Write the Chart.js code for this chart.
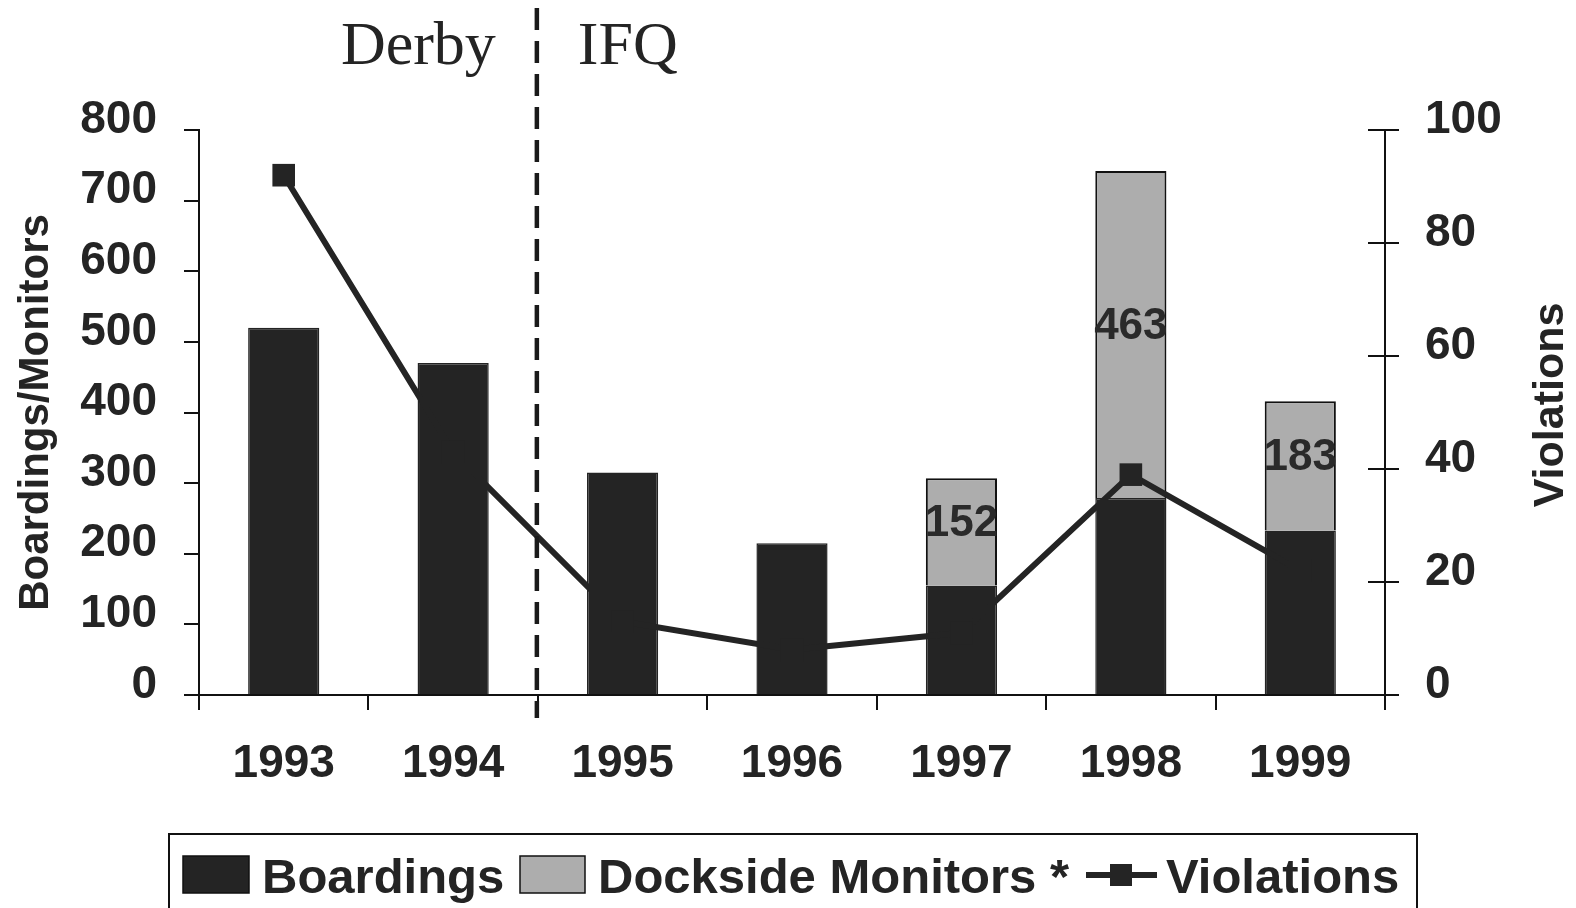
<!DOCTYPE html>
<html>
<head>
<meta charset="utf-8">
<script src="https://cdn.jsdelivr.net/npm/chart.js@4.4.1/dist/chart.umd.min.js"></script>
<style>
html,body{margin:0;padding:0;background:#fff;}
#wrap{width:1576px;height:908px;position:relative;}
</style>
</head>
<body>
<div id="wrap"><canvas id="c" width="1576" height="908"></canvas></div>
<script>
// ---- data ----
const years = ['1993', '1994', '1995', '1996', '1997', '1998', '1999'];
const boardings = [520, 470, 315, 215, 155, 279, 233];
const docksideMonitors = [null, null, null, null, 152, 463, 183];
const violations = [92, 43, 13, 8, 11, 39, 22];
const leftAxisTitle = 'Boardings/Monitors';
const rightAxisTitle = 'Violations';
const eraLabels = ['Derby', 'IFQ'];
const seriesNames = ['Boardings', 'Dockside Monitors *', 'Violations'];

// ---- styles ----
const INK = '#242424';
const BAR_DARK = '#242424';
const BAR_GRAY = '#adadad';
const SANS = '"Liberation Sans", Arial, sans-serif';
const SERIF = '"Liberation Serif", "Times New Roman", serif';

const extrasPlugin = {
  id: 'extras',
  afterDraw(chart) {
    const ctx = chart.ctx;
    const ca = chart.chartArea;
    const xs = chart.scales.x;
    const y2 = chart.scales.y2;
    ctx.save();

    // inner ticks of right axis (crossing ticks)
    ctx.strokeStyle = '#111';
    ctx.lineWidth = 2;
    y2.ticks.forEach((t, i) => {
      const py = y2.getPixelForTick(i);
      ctx.beginPath();
      ctx.moveTo(ca.right - 17, py);
      ctx.lineTo(ca.right, py);
      ctx.stroke();
    });

    // dashed divider between 1994 and 1995
    const divX = (xs.getPixelForValue(1) + xs.getPixelForValue(2)) / 2 - 1;
    ctx.setLineDash([22, 11]);
    ctx.lineWidth = 4.5;
    ctx.strokeStyle = '#1a1a1a';
    ctx.beginPath();
    ctx.moveTo(divX, 8);
    ctx.lineTo(divX, 718);
    ctx.stroke();
    ctx.setLineDash([]);

    // era labels
    ctx.fillStyle = INK;
    ctx.font = '62px ' + SERIF;
    ctx.textBaseline = 'alphabetic';
    ctx.textAlign = 'right';
    ctx.fillText(eraLabels[0], divX - 41, 64);
    ctx.textAlign = 'left';
    ctx.fillText(eraLabels[1], divX + 41, 64);

    // value labels in the dockside segments
    const meta = chart.getDatasetMeta(1);
    ctx.font = 'bold 44px ' + SANS;
    ctx.textAlign = 'center';
    ctx.textBaseline = 'middle';
    ctx.fillStyle = '#2a2a2a';
    meta.data.forEach((el, i) => {
      const v = docksideMonitors[i];
      if (v == null) return;
      ctx.fillText(String(v), el.x, (el.y + el.base) / 2 - 8);
    });

    // right axis title (reads bottom to top)
    ctx.save();
    ctx.translate(1551, 405);
    ctx.rotate(-Math.PI / 2);
    ctx.font = 'bold 43px ' + SANS;
    ctx.fillStyle = INK;
    ctx.textAlign = 'center';
    ctx.textBaseline = 'middle';
    ctx.fillText(rightAxisTitle, 0, 0);
    ctx.restore();

    // legend
    ctx.strokeStyle = '#111';
    ctx.lineWidth = 2;
    ctx.strokeRect(169, 834, 1248, 100);
    const cy = 875;
    // Boardings
    ctx.fillStyle = BAR_DARK;
    ctx.fillRect(183, 856, 66, 37);
    ctx.strokeStyle = '#111';
    ctx.lineWidth = 1.5;
    ctx.strokeRect(183, 856, 66, 37);
    // Dockside
    ctx.fillStyle = BAR_GRAY;
    ctx.fillRect(520, 856, 65, 37);
    ctx.strokeRect(520, 856, 65, 37);
    // Violations line symbol
    ctx.strokeStyle = INK;
    ctx.lineWidth = 6;
    ctx.beginPath();
    ctx.moveTo(1086, cy);
    ctx.lineTo(1157, cy);
    ctx.stroke();
    ctx.fillStyle = INK;
    ctx.fillRect(1121 - 11, cy - 11, 22, 22);
    // texts
    ctx.font = 'bold 49px ' + SANS;
    ctx.fillStyle = INK;
    ctx.textAlign = 'left';
    ctx.textBaseline = 'middle';
    ctx.fillText(seriesNames[0], 262, cy + 4);
    ctx.fillText(seriesNames[1], 598, cy + 4);
    ctx.fillText(seriesNames[2], 1166, cy + 4);

    ctx.restore();
  }
};

const tickFont = { family: SANS, weight: 'bold', size: 46 };

new Chart(document.getElementById('c'), {
  data: {
    labels: years,
    datasets: [
      {
        type: 'line',
        label: seriesNames[2],
        data: violations,
        yAxisID: 'y2',
        borderColor: INK,
        backgroundColor: INK,
        borderWidth: 6,
        pointStyle: 'rect',
        pointRadius: 16,
        pointBackgroundColor: INK,
        pointBorderColor: INK,
        pointBorderWidth: 0,
        tension: 0,
        order: 0
      },
      {
        type: 'bar',
        label: seriesNames[1],
        data: docksideMonitors,
        yAxisID: 'y',
        stack: 's',
        backgroundColor: BAR_GRAY,
        borderColor: '#111',
        borderWidth: 2,
        barPercentage: 0.42,
        categoryPercentage: 1,
        order: 2
      },
      {
        type: 'bar',
        label: seriesNames[0],
        data: boardings,
        yAxisID: 'y',
        stack: 's',
        backgroundColor: BAR_DARK,
        borderColor: BAR_DARK,
        borderWidth: 1.5,
        barPercentage: 0.42,
        categoryPercentage: 1,
        order: 1
      }
    ]
  },
  options: {
    responsive: false,
    animation: false,
    devicePixelRatio: 1,
    layout: { padding: { top: 130, bottom: 123, left: 0, right: 0 } },
    plugins: {
      legend: { display: false },
      tooltip: { enabled: false }
    },
    scales: {
      x: {
        stacked: true,
        offset: true,
        grid: { offset: true, drawOnChartArea: false, drawTicks: true, tickLength: 15, color: '#111', lineWidth: 2 },
        border: { display: true, color: '#111', width: 2 },
        ticks: { font: tickFont, color: INK, padding: 27, maxRotation: 0, autoSkip: false },
        afterFit: s => { s.height = 90; }
      },
      y: {
        position: 'left',
        stacked: true,
        min: 0,
        max: 800,
        ticks: { stepSize: 100, font: tickFont, color: INK, padding: 27, labelOffset: -10 },
        grid: { drawOnChartArea: false, drawTicks: true, tickLength: 15, color: '#111', lineWidth: 2 },
        border: { display: true, color: '#111', width: 2 },
        title: {
          display: true,
          text: leftAxisTitle,
          font: { family: SANS, weight: 'bold', size: 42 },
          color: INK,
          padding: { top: 11, bottom: 0 }
        },
        afterFit: s => { s.width = 199; }
      },
      y2: {
        position: 'right',
        min: 0,
        max: 100,
        ticks: { stepSize: 20, font: tickFont, color: INK, padding: 26, labelOffset: -10 },
        grid: { drawOnChartArea: false, drawTicks: true, tickLength: 14, color: '#111', lineWidth: 2 },
        border: { display: true, color: '#111', width: 2 },
        afterFit: s => { s.width = 191; }
      }
    }
  },
  plugins: [extrasPlugin]
});
</script>
</body>
</html>
